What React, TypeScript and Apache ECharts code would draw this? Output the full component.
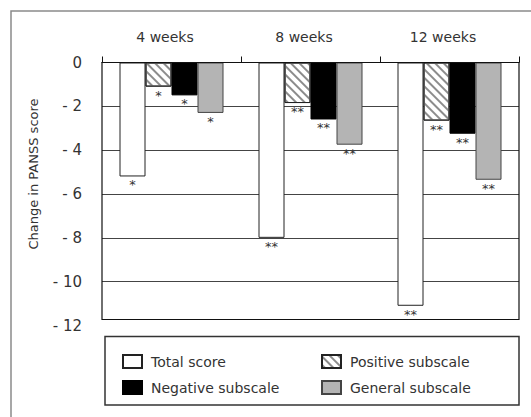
import React, { useEffect, useRef } from "react";
import * as echarts from "echarts";

const categories = ["4 weeks", "8 weeks", "12 weeks"];
const seriesNames = ["Total score", "Positive subscale", "Negative subscale", "General subscale"];
const totalScore = [-5.2, -8.0, -11.1];
const positiveSubscale = [-1.1, -1.85, -2.65];
const negativeSubscale = [-1.5, -2.6, -3.25];
const generalSubscale = [-2.3, -3.75, -5.35];
const totalSig = ["*", "**", "**"];
const positiveSig = ["*", "**", "**"];
const negativeSig = ["*", "**", "**"];
const generalSig = ["*", "**", "**"];
const yTicks = [0, -2, -4, -6, -8, -10, -12];

const FONT = "DejaVu Sans";

export default function App() {
  const ref = useRef<HTMLDivElement>(null);
  useEffect(() => {
    if (!ref.current) return;
    const chart = echarts.init(ref.current, null, { renderer: "svg" });

    const gridLeft = 102;
    const gridTop = 62.5;
    const gridWidth = 417;
    const gridHeight = 263;
    const boxBottom = 319.5;

    const mkLabel = (sig: string[]) => ({
      show: true,
      position: "bottom",
      distance: 2,
      formatter: (p: any) => sig[p.dataIndex],
      color: "#333",
      fontSize: 13,
      fontFamily: FONT,
    });

    const values = [totalScore, positiveSubscale, negativeSubscale, generalSubscale];
    const sigs = [totalSig, positiveSig, negativeSig, generalSig];
    const styles: any[] = [
      { color: "#ffffff", borderColor: "#222", borderWidth: 1 },
      {
        color: "#ffffff",
        borderColor: "#222",
        borderWidth: 1,
        decal: {
          symbol: "rect",
          symbolSize: 1,
          dashArrayX: [1, 0],
          dashArrayY: [1.5, 3.5],
          rotation: Math.PI / 4,
          color: "#8c8c8c",
        },
      },
      { color: "#000000", borderColor: "#000", borderWidth: 1 },
      { color: "#b4b4b4", borderColor: "#444", borderWidth: 1 },
    ];

    const legendPos = [
      { left: 122, top: 354 },
      { left: 321, top: 354 },
      { left: 122, top: 380 },
      { left: 321, top: 380 },
    ];

    chart.setOption({
      animation: false,
      grid: { left: gridLeft, top: gridTop, width: gridWidth, height: gridHeight, containLabel: false },
      xAxis: {
        type: "category",
        position: "top",
        data: categories,
        axisLine: { show: true, lineStyle: { color: "#111", width: 1 } },
        axisTick: { show: true, length: 6, inside: false, lineStyle: { color: "#111" } },
        axisLabel: {
          margin: 19,
          fontSize: 14,
          fontFamily: FONT,
          color: "#333",
          padding: [0, 13, 0, 0],
        },
        splitLine: { show: false },
      },
      yAxis: {
        type: "value",
        min: -12,
        max: 0,
        interval: 2,
        axisLine: { show: false },
        axisTick: { show: false },
        axisLabel: {
          margin: 20,
          fontSize: 15,
          fontFamily: FONT,
          color: "#333",
          formatter: (v: number) => (v === 0 ? "0" : "- " + Math.abs(v)),
        },
        splitLine: {
          show: true,
          lineStyle: {
            color: yTicks.map((t) => (t === -12 ? "rgba(0,0,0,0)" : "#444")).reverse(),
            width: 1.2,
          },
        },
      },
      legend: seriesNames.map((name, i) => ({
        data: [{ name, icon: "rect" }],
        left: legendPos[i].left,
        top: legendPos[i].top,
        padding: 0,
        itemWidth: 19,
        itemHeight: 13,
        selectedMode: false,
        textStyle: { fontSize: 14, fontFamily: FONT, color: "#333", padding: [0, 0, 0, 4] },
      })),
      series: values.map((v, i) => ({
        name: seriesNames[i],
        type: "bar",
        data: v,
        barWidth: 26,
        barGap: "0%",
        itemStyle: styles[i],
        label: mkLabel(sigs[i]),
      })),
      graphic: [
        {
          type: "rect",
          shape: { x: 11, y: 11, width: 700, height: 700 },
          style: { fill: "none", stroke: "#8a8a8a", lineWidth: 1.5 },
          silent: true,
        },
        {
          type: "rect",
          z: 10,
          shape: { x: gridLeft, y: gridTop, width: gridWidth, height: boxBottom - gridTop },
          style: { fill: "none", stroke: "#111", lineWidth: 1.2 },
          silent: true,
        },
        {
          type: "rect",
          shape: { x: 105, y: 336.5, width: 414, height: 68.5 },
          style: { fill: "none", stroke: "#333", lineWidth: 1.5 },
          silent: true,
        },
        {
          type: "text",
          x: 33,
          y: 174,
          rotation: Math.PI / 2,
          style: {
            text: "Change in PANSS score",
            fontSize: 13,
            fontFamily: FONT,
            fill: "#333",
            align: "center",
            verticalAlign: "middle",
          },
          silent: true,
        },
      ],
    });
    return () => chart.dispose();
  }, []);
  return (
    <div
      ref={ref}
      style={{ position: "fixed", left: 0, top: 0, width: 531, height: 417, background: "#fff" }}
    />
  );
}
